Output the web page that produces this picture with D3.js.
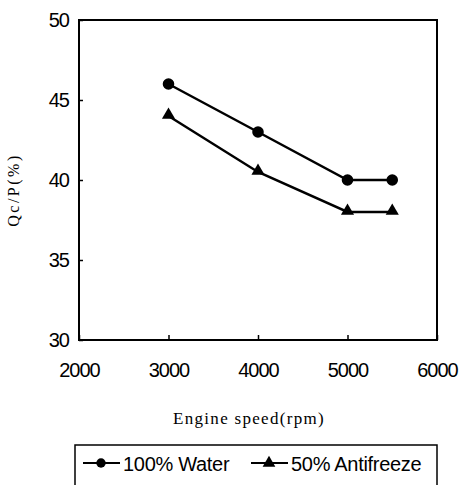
<!DOCTYPE html>
<html>
<head>
<meta charset="utf-8">
<script src="https://cdn.jsdelivr.net/npm/d3@7"></script>
<style>
  body { margin: 0; background: #fff; }
  svg { display: block; }
</style>
</head>
<body>
<div id="chart"></div>
<script>
// engine speed (rpm)
let speeds = [3000, 4000, 5000, 5500];
let water = [46, 43, 40, 40];
let antifreeze = [44, 40.5, 38, 38];
let xTicks = [2000, 3000, 4000, 5000, 6000];
let yTicks = [30, 35, 40, 45, 50];
let seriesNames = ['100% Water', '50% Antifreeze'];

let elWidth = 462, elHeight = 485;
let margin = {top: 20, right: 25, bottom: 145, left: 79};
let width = elWidth - margin.left - margin.right;
let height = elHeight - margin.top - margin.bottom;

let sans = 'Liberation Sans, Arial, sans-serif';
let serif = 'Liberation Serif, Times New Roman, serif';

let svg = d3.select('#chart').append('svg')
    .attr('width', elWidth)
    .attr('height', elHeight);
let g = svg.append('g').attr('transform', 'translate(' + margin.left + ',' + margin.top + ')');

let x = d3.scaleLinear().domain([2000, 6000]).range([0, width]);
let y = d3.scaleLinear().domain([30, 50]).range([height, 0]);

// frame
g.append('rect')
    .attr('width', width).attr('height', height)
    .attr('fill', 'none').attr('stroke', '#000').attr('stroke-width', 2);

let xAxis = g.append('g')
    .attr('transform', 'translate(0,' + height + ')')
    .call(d3.axisBottom(x).tickValues(xTicks).tickFormat(d3.format('d')).tickSize(-5).tickPadding(23));
xAxis.select('.domain').remove();
xAxis.selectAll('.tick line').attr('stroke', '#000').attr('stroke-width', 1.5);
xAxis.selectAll('.tick text')
    .attr('font-family', sans).attr('letter-spacing', -1)
    .attr('font-size', 20).attr('fill', '#000');

let yAxis = g.append('g')
    .call(d3.axisLeft(y).tickValues(yTicks).tickSize(-4).tickPadding(10));
yAxis.select('.domain').remove();
yAxis.selectAll('.tick line').attr('stroke', '#000').attr('stroke-width', 1.5);
yAxis.selectAll('.tick text')
    .attr('font-family', sans).attr('letter-spacing', -1)
    .attr('font-size', 20).attr('fill', '#000');

let line = d3.line()
    .x(function(d) { return x(d[0]); })
    .y(function(d) { return y(d[1]); });

let waterPts = speeds.map(function(s, i) { return [s, water[i]]; });
let antiPts = speeds.map(function(s, i) { return [s, antifreeze[i]]; });

[waterPts, antiPts].forEach(function(pts) {
    g.append('path')
        .datum(pts)
        .attr('fill', 'none')
        .attr('stroke', '#000')
        .attr('stroke-width', 2.5)
        .attr('d', line);
});

let circle = d3.symbol().type(d3.symbolCircle).size(105);
let tri = d3.symbol().type(d3.symbolTriangle).size(75);

g.selectAll('.m-water').data(waterPts).enter().append('path')
    .attr('d', circle)
    .attr('transform', function(d) { return 'translate(' + x(d[0]) + ',' + y(d[1]) + ')'; });
g.selectAll('.m-anti').data(antiPts).enter().append('path')
    .attr('d', tri)
    .attr('transform', function(d) { return 'translate(' + x(d[0]) + ',' + (y(d[1]) - 1) + ')'; });

// axis titles
svg.append('text')
    .attr('transform', 'translate(19,190) rotate(-90)')
    .attr('text-anchor', 'middle')
    .attr('font-family', serif)
    .attr('font-size', 16).attr('letter-spacing', 2.5)
    .text('Qc/P(%)');

svg.append('text')
    .attr('x', 249).attr('y', 424)
    .attr('text-anchor', 'middle')
    .attr('font-family', serif)
    .attr('font-size', 17).attr('letter-spacing', 1.3)
    .text('Engine speed(rpm)');

// legend
let legend = svg.append('g');
legend.append('rect')
    .attr('x', 75).attr('y', 445).attr('width', 362).attr('height', 48)
    .attr('fill', 'none').attr('stroke', '#000').attr('stroke-width', 1.5);

let legendItems = [
    {name: seriesNames[0], sym: circle, x0: 83},
    {name: seriesNames[1], sym: tri, x0: 251}
];
legendItems.forEach(function(d) {
    let ly = 463;
    legend.append('line')
        .attr('x1', d.x0).attr('x2', d.x0 + 37)
        .attr('y1', ly).attr('y2', ly)
        .attr('stroke', '#000').attr('stroke-width', 2.2);
    legend.append('path')
        .attr('d', d.sym.size(70))
        .attr('transform', 'translate(' + (d.x0 + 18) + ',' + ly + ')');
    legend.append('text')
        .attr('x', d.x0 + 40).attr('y', ly + 8)
        .attr('font-family', sans)
        .attr('font-size', 20).attr('letter-spacing', -0.3)
        .text(d.name);
});
</script>
</body>
</html>
